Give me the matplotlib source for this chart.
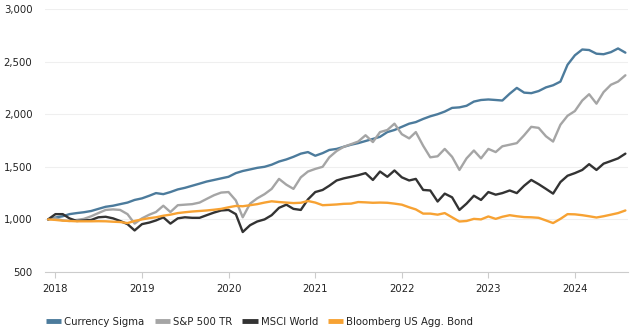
import pandas as pd
import matplotlib.pyplot as plt
import matplotlib.dates as mdates
from matplotlib.ticker import FuncFormatter

# monthly growth of 1,000, Dec 2017 - Aug 2024
dates = pd.date_range('2017-12-01', periods=81, freq='MS')

currency_sigma = [
    1000, 1018, 1030, 1050, 1060, 1068, 1080, 1100, 1120, 1130, 1145, 1160,
    1185, 1200, 1225, 1250, 1240, 1260, 1285, 1300, 1320, 1340, 1360, 1375,
    1390, 1405, 1440, 1460, 1475, 1490, 1500, 1520, 1550, 1570, 1595, 1625,
    1640, 1605, 1630, 1660, 1670, 1690, 1710, 1725, 1745, 1765, 1785, 1830,
    1850, 1880, 1910, 1925, 1955, 1980, 2000, 2025, 2060, 2065, 2080, 2120,
    2135, 2140, 2135, 2130, 2195, 2250, 2205, 2200, 2220, 2255, 2275, 2310,
    2470, 2560, 2615, 2610, 2575, 2570, 2590, 2625, 2585,
]
sp500_tr = [
    1000, 1010, 990, 985, 995, 1005, 1030, 1060, 1090, 1095, 1090, 1050,
    960, 1010, 1045, 1070, 1130, 1070, 1135, 1140, 1145, 1160, 1195, 1230,
    1255, 1260, 1180, 1020, 1150, 1200, 1240, 1290, 1385, 1330, 1290, 1400,
    1455, 1480, 1500, 1590, 1650, 1690, 1715, 1740, 1800, 1735, 1830, 1850,
    1910, 1810, 1770, 1830, 1700, 1590, 1600, 1670, 1595, 1470, 1580, 1655,
    1580, 1670, 1640, 1695, 1710, 1725, 1800, 1880, 1870, 1790, 1740, 1900,
    1985, 2030, 2130, 2190, 2100, 2210, 2280, 2310, 2370,
]
msci_world = [
    1000, 1050, 1050, 1010, 985, 990, 995, 1020, 1025, 1010, 985, 955,
    895, 955, 970, 990, 1020, 960, 1010, 1020, 1015, 1015, 1040, 1065,
    1085, 1090, 1050, 880, 945, 980, 1000, 1040, 1110, 1140, 1100, 1090,
    1190, 1260, 1280, 1320, 1370, 1390, 1405, 1420, 1440, 1375, 1455, 1405,
    1465, 1400, 1370, 1385, 1280, 1275, 1170, 1245, 1210, 1090, 1150, 1225,
    1185, 1260, 1235, 1250, 1275, 1250, 1320, 1375, 1335, 1290, 1245, 1355,
    1415, 1440, 1470, 1525, 1470, 1530, 1555, 1580, 1625,
]
us_agg_bond = [
    1000, 995, 988, 985, 982, 982, 982, 983, 982, 978, 975, 965,
    985, 1000, 1012, 1020, 1035, 1045, 1060, 1068, 1075, 1080, 1085, 1092,
    1100, 1115, 1128, 1125, 1135, 1145, 1160, 1172, 1165, 1160, 1155, 1158,
    1175, 1160, 1135, 1138, 1142, 1148, 1150, 1165, 1162, 1158, 1160, 1158,
    1150, 1140, 1115, 1095, 1055, 1055, 1045, 1060, 1020, 980, 985, 1005,
    1000, 1028, 1005, 1025, 1040, 1030, 1022, 1020, 1015, 990, 965, 1005,
    1050, 1048, 1040, 1030, 1018, 1030, 1045, 1060, 1085,
]

series = [
    ('Currency Sigma', currency_sigma, '#4c7b9c'),
    ('S&P 500 TR', sp500_tr, '#a5a5a5'),
    ('MSCI World', msci_world, '#333333'),
    ('Bloomberg US Agg. Bond', us_agg_bond, '#f7a233'),
]

plt.rcParams['font.family'] = 'DejaVu Sans'

fig = plt.figure(figsize=(6.4, 3.31), dpi=100)
ax = fig.add_axes([45 / 640, 59 / 331, 583 / 640, 263 / 331])

for name, vals, col in series:
    ax.plot(dates, vals, color=col, lw=1.7, label=name,
            solid_joinstyle='round', solid_capstyle='round')

ax.set_ylim(500, 3000)
ax.set_yticks([500, 1000, 1500, 2000, 2500, 3000])
ax.yaxis.set_major_formatter(FuncFormatter(lambda v, p: f'{int(v):,}'))
ax.set_xlim(pd.Timestamp('2017-11-18'), pd.Timestamp('2024-08-12'))
ax.xaxis.set_major_locator(mdates.YearLocator())
ax.xaxis.set_major_formatter(mdates.DateFormatter('%Y'))

ax.grid(axis='y', color='#efefef', lw=0.8)
ax.set_axisbelow(True)
for s in ['top', 'right', 'left']:
    ax.spines[s].set_visible(False)
ax.spines['bottom'].set_color('#cccccc')
ax.tick_params(axis='y', length=0, pad=9, labelsize=7.3, labelcolor='#222222')
ax.tick_params(axis='x', length=4, color='#cccccc', pad=5, labelsize=7.3,
               labelcolor='#222222')

leg = ax.legend(loc='upper left', bbox_to_anchor=(-3 / 583, -0.155), ncol=4,
                frameon=False, fontsize=7.3, handlelength=1.5,
                handletextpad=0.3, columnspacing=1.0, borderaxespad=0)
for h in leg.get_lines():
    h.set_linewidth(3.5)
    h.set_solid_capstyle('butt')
for t in leg.get_texts():
    t.set_color('#222222')

fig.savefig('out.png', dpi=100)
